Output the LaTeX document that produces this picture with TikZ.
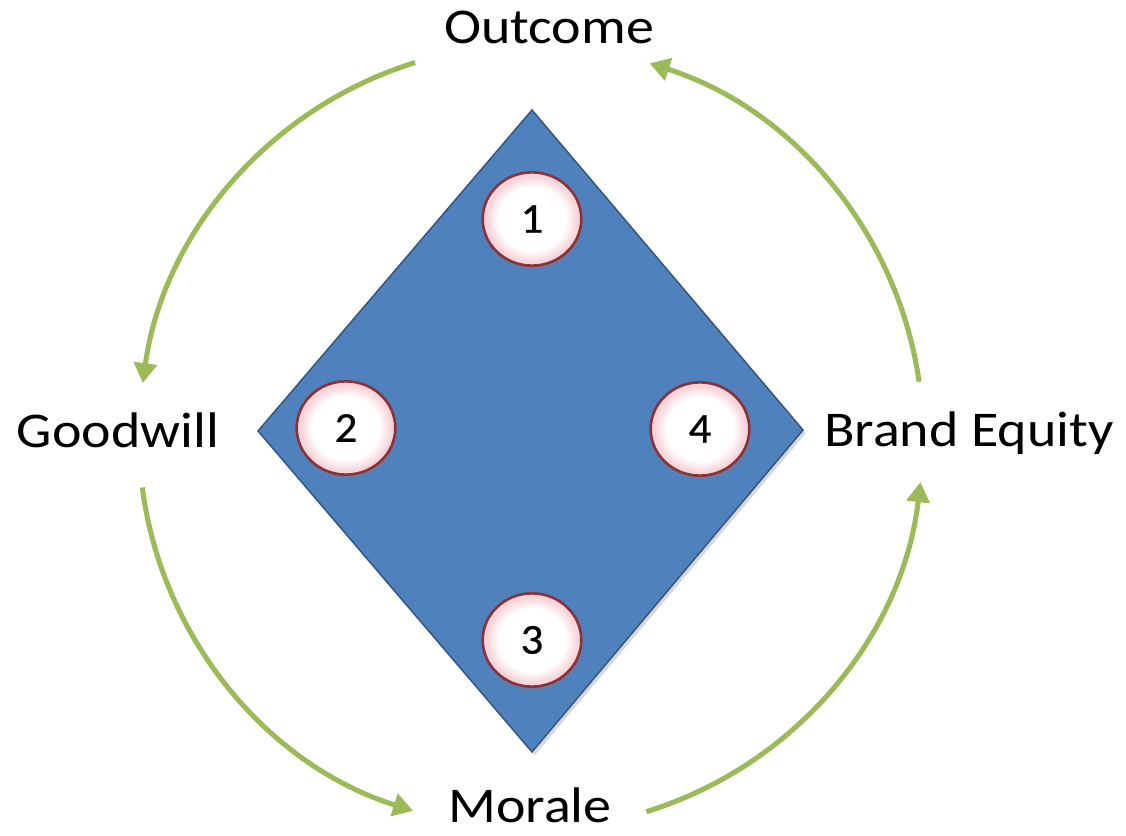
\documentclass[tikz,border=0pt]{standalone}
\usepackage{fontspec}
\setmainfont{Carlito}[FakeStretch=1.12]
\newfontfamily\digitfont{Carlito}[FakeStretch=1.05, FakeBold=0.6]
\usetikzlibrary{arrows.meta,shapes.geometric,shadows,calc}
\definecolor{arrowgreen}{RGB}{155,187,89}
\definecolor{diamondblue}{RGB}{79,129,189}
\definecolor{diamondedge}{RGB}{52,84,128}
\definecolor{ringred}{RGB}{140,50,60}
\definecolor{ringpink}{RGB}{246,212,216}
\pgfdeclareradialshading{ringshade}{\pgfpoint{0bp}{0bp}}{color(0bp)=(white); color(17bp)=(white); color(23bp)=(ringpink); color(25bp)=(ringpink); color(50bp)=(ringpink)}
\tikzset{
  lbl/.style={inner sep=0pt, anchor=base, font=\fontsize{37.5}{40}\selectfont},
  numcircle/.style={ellipse, minimum width=74pt, minimum height=70pt, inner sep=0pt,
    draw=ringred, line width=2pt, shading=ringshade,
    drop shadow={shadow xshift=1pt, shadow yshift=-2pt, opacity=0.5},
    font=\digitfont\fontsize{32}{33}\selectfont},
  diamondstyle/.style={fill=diamondblue, draw=diamondedge, line width=1.1pt,
    drop shadow={shadow xshift=2pt, shadow yshift=-2.5pt, opacity=0.3}},
  arr/.style={draw=arrowgreen, line width=3.8pt, -{Triangle[length=15pt, width=17pt]}}
}
\begin{document}
\begin{tikzpicture}[x=0.75pt,y=0.75pt]
\fill[white] (0,0) rectangle (1126,835);
\useasboundingbox (0,0) rectangle (1126,835);
% geometry
\coordinate (C) at (531,398);
\coordinate (T) at (532,725);
\coordinate (R) at (803,405);
\coordinate (B) at (532,83);
\coordinate (L) at (258,404);
% diamond
\path[diamondstyle] (T) -- (R) -- (B) -- (L) -- cycle;
% numbered circles
\node[numcircle] (n1) at (532,616) {1};
\node[numcircle] (n2) at (346,407) {2};
\node[numcircle] (n3) at (532,195) {3};
\node[numcircle] (n4) at (700,406) {4};
% labels
\node[lbl] (outcome) at (549,791) {Outcome};
\node[lbl] (goodwill) at (118,387) {Goodwill};
\node[lbl] (brand) at (969,388) {Brand Equity};
\node[lbl] (morale) at (530,13) {Morale};
% arrow end points on the surrounding circle
\coordinate (a1) at ($(C)+(107.2:392)$);
\coordinate (a2) at ($(C)+(187.4:392)$);
\coordinate (a3) at ($(C)+(287.1:392)$);
\coordinate (a4) at ($(C)+(8.1:392)$);
\draw[arr] (a1) arc[start angle=107.2, end angle=172.1, radius=392];
\draw[arr] (a2) arc[start angle=187.4, end angle=252.5, radius=392];
\draw[arr] (a3) arc[start angle=287.1, end angle=353.4, radius=392];
\draw[arr] (a4) arc[start angle=8.1, end angle=72.4, radius=392];
\end{tikzpicture}
\end{document}
